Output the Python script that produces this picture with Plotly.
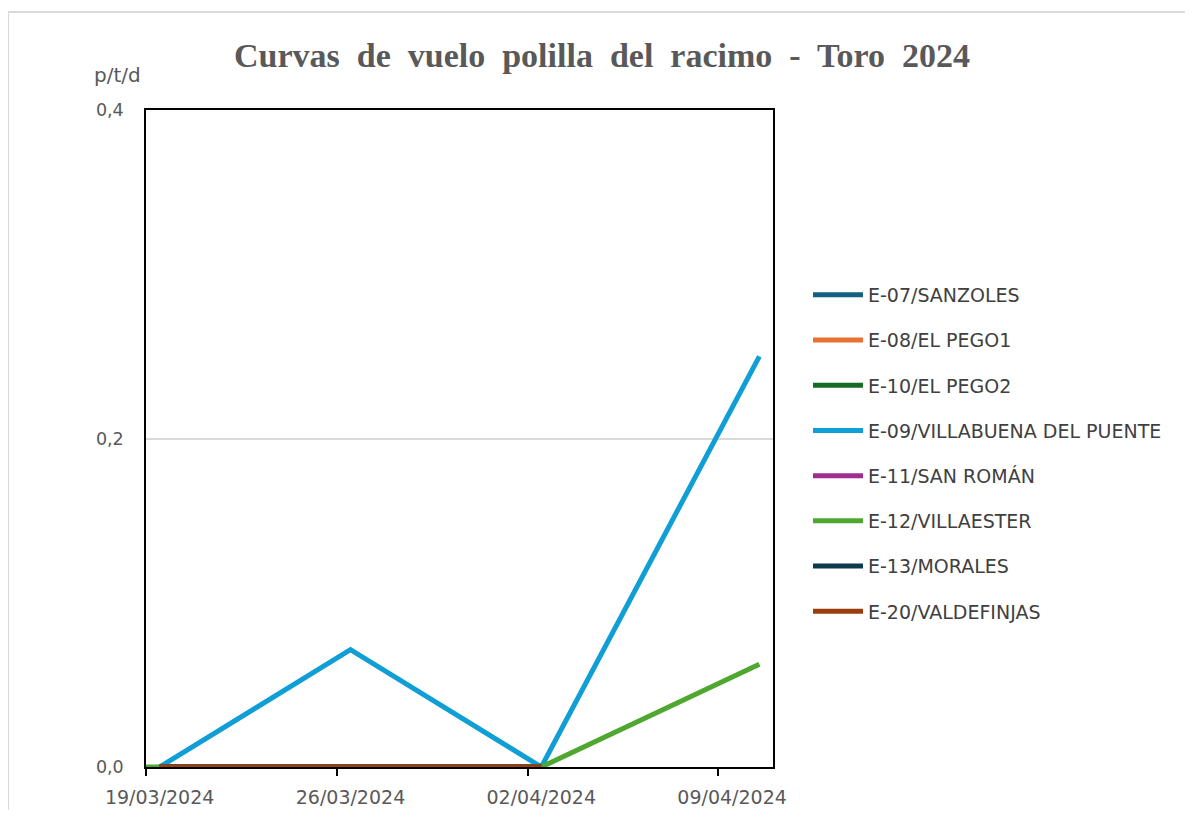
import plotly.graph_objects as go

# ---- data ----
dates_main = ["2024-03-19", "2024-03-26", "2024-04-02"]
dates_full = ["2024-03-19", "2024-03-26", "2024-04-02", "2024-04-10"]
dates_e12 = ["2024-03-12", "2024-03-19", "2024-03-26", "2024-04-02", "2024-04-10"]

series_names = [
    "E-07/SANZOLES", "E-08/EL PEGO1", "E-10/EL PEGO2",
    "E-09/VILLABUENA DEL PUENTE", "E-11/SAN ROMÁN", "E-12/VILLAESTER",
    "E-13/MORALES", "E-20/VALDEFINJAS",
]
series_colors = ["#156082", "#E97132", "#196B24", "#0F9ED5",
                 "#A02B93", "#4EA72E", "#0D3A4E", "#9A3D0F"]

e07 = [0, 0, 0]
e08 = [0, 0, 0]
e10 = [0, 0, 0]
e09 = [0, 0.0714, 0, 0.25]
e11 = [0, 0, 0]
e12 = [0, 0, 0, 0, 0.0625]
e13 = [0, 0, 0]
e20 = [0, 0, 0]

series_x = [dates_main, dates_main, dates_main, dates_full,
            dates_main, dates_e12, dates_main, dates_main]
series_y = [e07, e08, e10, e09, e11, e12, e13, e20]

tick_dates = ["2024-03-19", "2024-03-26", "2024-04-02", "2024-04-09"]

# ---- figure (page has an 8px body margin) ----
OFF = 8
W, H = 1193 - 2 * OFF, 818 - 2 * OFF
L = 146 - OFF
T = 110 - OFF
R = W - (773 - OFF)
B = H - (767 - OFF)

fig = go.Figure()
for name, color, xs, ys in zip(series_names, series_colors, series_x, series_y):
    fig.add_trace(go.Scatter(
        x=xs, y=ys, name=name, mode="lines",
        line=dict(color=color, width=5),
        legendgroup=name,
    ))

def px_to_paper_x(px):
    return (px - OFF - L) / (W - L - R)

def px_to_paper_y(py):
    return (H - B - (py - OFF)) / (H - T - B)

SANS = "DejaVu Sans, Open Sans, sans-serif"
title_text = "&nbsp; ".join("Curvas de vuelo polilla del racimo - Toro 2024".split(" "))

fig.update_layout(
    width=W, height=H,
    margin=dict(l=L, r=R, t=T, b=B, autoexpand=False),
    paper_bgcolor="white", plot_bgcolor="white",
    separators=",.",
    font=dict(family=SANS, color="#595959", size=16),
    title=dict(
        text="<b>" + title_text + "</b>",
        font=dict(family="Liberation Serif, Times New Roman, serif", size=34, color="#595959"),
        x=(602 - OFF) / W, xanchor="center", y=1 - (55 - OFF) / H, yanchor="middle",
    ),
    showlegend=True,
    legend=dict(
        x=px_to_paper_x(808), xanchor="left",
        y=px_to_paper_y(276), yanchor="top",
        font=dict(family=SANS, size=19, color="#404040"),
        tracegroupgap=17.5,
        itemwidth=50,
        bgcolor="rgba(0,0,0,0)",
    ),
    xaxis=dict(
        type="date",
        automargin=False,
        range=["2024-03-18 12:00", "2024-04-10 12:00"],
        tickvals=tick_dates,
        tickformat="%d/%m/%Y",
        ticks="",
        ticklabelstandoff=12,
        showgrid=False,
        showline=True, linecolor="black", linewidth=1.5, mirror=True,
        tickfont=dict(family=SANS, size=19, color="#595959"),
        minor=dict(tick0="2024-03-18 12:00", dtick=7 * 86400000,
                   ticks="outside", ticklen=7, tickcolor="black",
                   tickwidth=1.5, showgrid=False),
        zeroline=False,
    ),
    yaxis=dict(
        automargin=False,
        range=[0, 0.4],
        tickvals=[0, 0.2, 0.4],
        tickformat=".1f",
        ticks="",
        ticklabelstandoff=17,
        showgrid=True, gridcolor="#d9d9d9", gridwidth=1.5,
        showline=True, linecolor="black", linewidth=1.5, mirror=True,
        zeroline=False,
        tickfont=dict(family=SANS, size=17.5, color="#595959"),
    ),
    annotations=[dict(
        text="p/t/d", xref="paper", yref="paper",
        x=px_to_paper_x(92), y=px_to_paper_y(75),
        xanchor="left", yanchor="middle", showarrow=False,
        font=dict(family=SANS, size=20, color="#595959"),
    )],
    shapes=[
        dict(type="line", xref="paper", yref="paper",
             x0=px_to_paper_x(7), x1=px_to_paper_x(1193),
             y0=px_to_paper_y(12), y1=px_to_paper_y(12),
             line=dict(color="#d9d9d9", width=2)),
        dict(type="line", xref="paper", yref="paper",
             x0=px_to_paper_x(8), x1=px_to_paper_x(8),
             y0=px_to_paper_y(12), y1=px_to_paper_y(818),
             line=dict(color="#d9d9d9", width=2)),
    ],
)

fig.write_html("out.html")
